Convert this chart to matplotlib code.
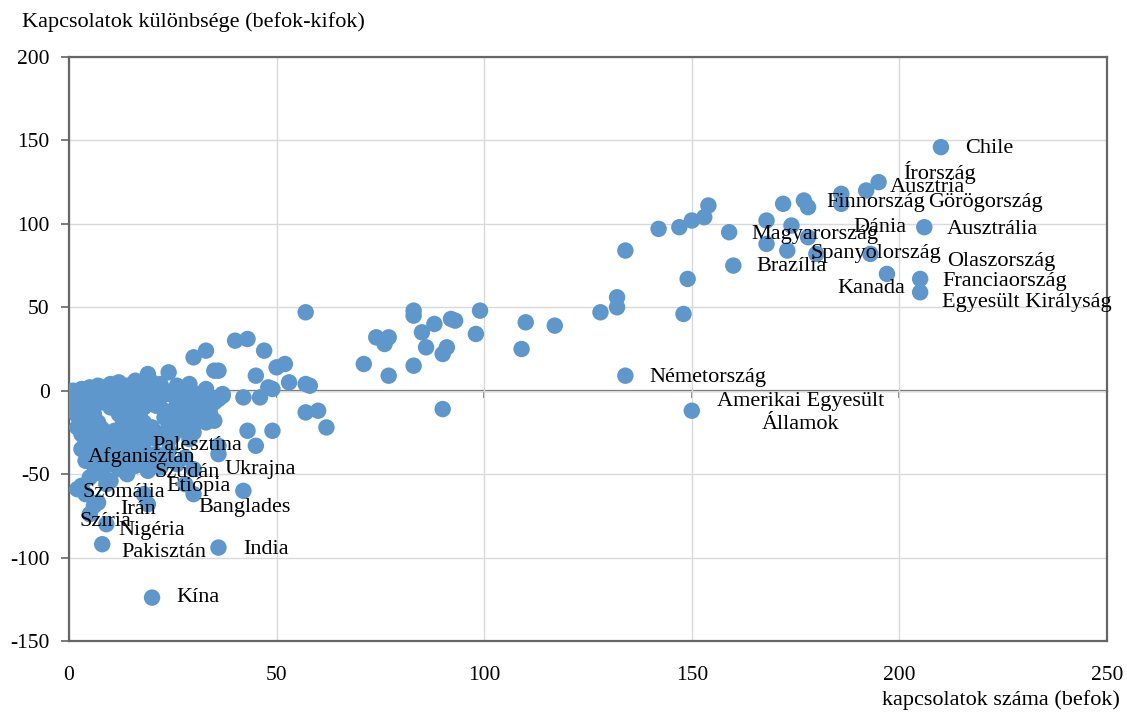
import matplotlib
matplotlib.use('Agg')
import matplotlib.pyplot as plt

plt.rcParams['font.family'] = ['Liberation Serif', 'DejaVu Serif']

# befok (x) / befok-kifok (y) -- címkézetlen országok
befok = [
    # felső jobb csoport
    210, 195, 192, 186, 186, 177, 178, 172, 154, 153, 150, 147, 142, 168, 174,
    159, 178, 168, 173, 180, 193, 206, 134, 160, 197, 205, 205, 149, 132, 132,
    128, 148,
    # középső sáv
    57, 40, 43, 47, 45, 50, 52, 53, 48, 49, 57, 58, 42, 46, 57, 60, 62, 43, 49,
    45, 36, 71, 74, 77, 76, 77, 83, 83, 88, 85, 86, 83, 92, 93, 98, 99, 91, 90,
    90, 110, 117, 109, 134, 150, 33, 30, 35, 24, 19, 33, 36, 42, 36, 36, 36, 20,
    # sűrű csoport, y 0..10
    0, 1, 2, 3, 4, 5, 6, 7, 8, 9, 10, 11, 12, 13, 14, 15, 16, 17, 18, 20, 21,
    22, 23, 25, 26, 28, 29, 31, 37,
    # y -2..-10
    1, 2, 3, 4, 5, 6, 7, 8, 9, 10, 11, 12, 13, 14, 15, 16, 17, 18, 19, 20, 21,
    22, 23, 24, 26, 27, 28, 29, 30, 32, 33, 34, 35, 36, 37,
    # y -12..-20
    1, 2, 3, 4, 5, 6, 7, 12, 13, 14, 15, 16, 17, 18, 23, 24, 25, 27, 28, 30, 31,
    32, 33, 34, 35,
    # y -22..-32
    2, 3, 4, 5, 6, 8, 9, 10, 11, 12, 13, 14, 15, 16, 17, 18, 19, 20, 21, 22, 24,
    25, 27, 29, 30,
    # y -33..-50
    3, 4, 5, 6, 7, 8, 9, 10, 11, 12, 13, 14, 15, 16, 17, 18, 19, 20, 21, 22, 23,
    24, 26, 28, 30,
    # alsó szórt pontok
    2, 4, 3, 6, 7, 9, 5, 8, 10, 14, 18, 19, 28, 30, 5, 9, 8,
]
kulonbseg = [
    146, 125, 120, 118, 112, 114, 110, 112, 111, 104, 102, 98, 97, 102, 99,
    95, 92, 88, 84, 82, 82, 98, 84, 75, 70, 67, 59, 67, 56, 50,
    47, 46,
    47, 30, 31, 24, 9, 14, 16, 5, 2, 1, 4, 3, -4, -4, -13, -12, -22, -24, -24,
    -33, 12, 16, 32, 32, 28, 9, 48, 45, 40, 35, 26, 15, 43, 42, 34, 48, 26, 22,
    -11, 41, 39, 25, 9, -12, 24, 20, 12, 11, 10, 1, -4, -60, -38, -33, -94, -124,
    -2, 0, -1, 1, 0, 2, 1, 3, 0, 2, 4, 1, 5, 2, 3, 0, 6, 3, 1, 5, 2,
    4, 0, 0, 3, -1, 4, -2, -2,
    -5, -8, -4, -6, -3, -9, -5, -7, -4, -10, -6, -3, -8, -5, -9, -4, -7, -10, -3,
    -6, -9, -4, -12, -2, -8, -4, -12, -6, -10, -7, -4, -10, -7, -5, -3,
    -12, -15, -18, -13, -16, -14, -19, -14, -18, -13, -17, -20, -15, -19, -16,
    -20, -14, -18, -15, -20, -13, -17, -19, -14, -18,
    -22, -26, -30, -24, -28, -23, -27, -31, -24, -29, -22, -26, -32, -23, -28,
    -31, -25, -22, -29, -26, -30, -27, -23, -29, -25,
    -35, -42, -38, -45, -33, -40, -36, -44, -38, -47, -34, -41, -37, -45, -40,
    -35, -48, -43, -38, -46, -42, -36, -44, -40, -47,
    -59, -62, -57, -69, -67, -56, -52, -50, -54, -50, -62, -68, -56, -62, -74,
    -80, -92,
]

# országcímkék (szöveg bal széle, függőleges közép)
cimkek = ['Chile', 'Írország', 'Ausztria', 'Finnország', 'Görögország',
          'Ausztrália', 'Dánia', 'Magyarország', 'Spanyolország',
          'Olaszország', 'Franciaország', 'Egyesült Királyság', 'Kanada',
          'Brazília', 'Németország', 'Palesztína', 'Afganisztán', 'Szudán',
          'Ukrajna', 'Szomália', 'Etiópia', 'Irán', 'Banglades', 'Szíria',
          'Nigéria', 'Pakisztán', 'India', 'Kína']
cimke_x = [215.8, 200.9, 197.7, 182.5, 207.0, 211.4, 188.9, 164.4, 178.6,
           211.6, 210.3, 210.3, 185.1, 165.6, 139.9, 20.0, 4.6, 20.7, 37.4,
           3.3, 23.4, 12.3, 31.1, 2.5, 11.9, 12.7, 42.0, 25.9]
cimke_y = [145.2, 130.8, 121.8, 113.0, 113.0, 96.6, 98.0, 93.6, 82.4, 77.6,
           65.6, 53.0, 61.4, 74.4, 8.0, -32.6, -40.0, -49.0, -47.0, -61.0,
           -57.5, -71.4, -70.0, -78.4, -84.0, -97.0, -95.0, -124.0]

fig = plt.figure(figsize=(11.27, 7.13), dpi=100)
ax = fig.add_axes([69 / 1127, 1 - 641 / 713, 1038 / 1127, 584 / 713])

ax.scatter(befok, kulonbseg, s=140, color='#5e97cc', edgecolors='none',
           zorder=3)

for nev, tx, ty in zip(cimkek, cimke_x, cimke_y):
    ax.text(tx, ty, nev, fontsize=16, ha='left', va='center', zorder=4)
ax.text(176.3, -13.5, 'Amerikai Egyesült\nÁllamok', fontsize=16,
        ha='center', va='center', multialignment='center',
        linespacing=1.25, zorder=4)

ax.set_xlim(0, 250)
ax.set_ylim(-150, 200)
ax.set_xticks(range(0, 251, 50))
ax.set_yticks(range(-150, 201, 50))
ax.set_yticklabels([str(v) for v in range(-150, 201, 50)])
ax.grid(True, color='#d9d9d9', linewidth=1.0, zorder=0)
ax.set_axisbelow(True)

for sp in ax.spines.values():
    sp.set_color('#666666')
    sp.set_linewidth(1.6)

ax.tick_params(axis='y', direction='out', length=6, width=1.2,
               color='#666666', labelsize=15.5, pad=8)
ax.tick_params(axis='x', length=0, labelsize=15.5, pad=18)

# vízszintes tengely a 0-nál, kis osztásokkal
zero_ax = ax.secondary_xaxis(150 / 350)
zero_ax.set_xticks(range(0, 251, 50))
zero_ax.tick_params(axis='x', direction='out', length=5, width=1.2,
                    color='#666666', labelbottom=False, labeltop=False,
                    bottom=True, top=False)
zero_ax.spines['bottom'].set_color('#666666')
zero_ax.spines['bottom'].set_linewidth(1.6)

fig.text(22 / 1127, 1 - 22 / 713, 'Kapcsolatok különbsége (befok-kifok)',
         fontsize=16, ha='left', va='center')
fig.text(1120 / 1127, 1 - 700 / 713, 'kapcsolatok száma (befok)',
         fontsize=16, ha='right', va='center')

fig.savefig('out.png', dpi=100)
